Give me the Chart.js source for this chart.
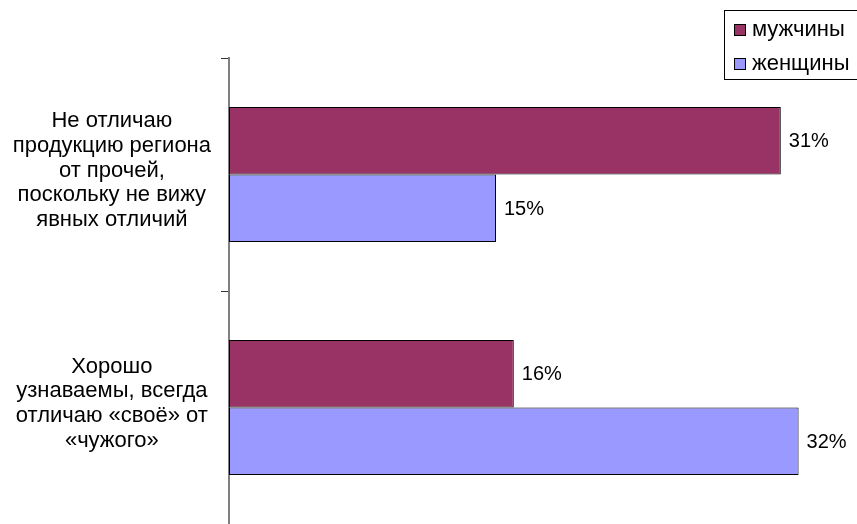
<!DOCTYPE html>
<html>
<head>
<meta charset="utf-8">
<script src="https://cdn.jsdelivr.net/npm/chart.js@4.4.1/dist/chart.umd.min.js"></script>
<style>
  html, body { margin: 0; padding: 0; background: #ffffff; }
  #wrap { width: 857px; height: 524px; position: relative; }
</style>
</head>
<body>
<div id="wrap"><canvas id="chart" width="857" height="524"></canvas></div>
<script>
// Answer categories (multi-line labels)
const categories = [
  ['Не отличаю', 'продукцию региона', 'от прочей,', 'поскольку не вижу', 'явных отличий'],
  ['Хорошо', 'узнаваемы, всегда', 'отличаю «своё» от', '«чужого»']
];
const seriesNames = ['мужчины', 'женщины'];
const menValues = [31, 16];
const womenValues = [15, 32];
const seriesColors = ['#993366', '#9999ff'];

const FONT = 'Arial, "Liberation Sans", sans-serif';

// Percent labels to the right of every bar
const valueLabels = {
  id: 'valueLabels',
  afterDatasetsDraw(chart) {
    const ctx = chart.ctx;
    ctx.save();
    ctx.font = '20px ' + FONT;
    ctx.fillStyle = '#000';
    ctx.textAlign = 'left';
    ctx.textBaseline = 'middle';
    chart.data.datasets.forEach((ds, di) => {
      chart.getDatasetMeta(di).data.forEach((bar, i) => {
        ctx.fillText(ds.data[i] + '%', bar.x + 8, bar.y + 1);
      });
    });
    ctx.restore();
  }
};

// Boxed legend in the upper right corner
const boxLegend = {
  id: 'boxLegend',
  afterDraw(chart) {
    const ctx = chart.ctx;
    ctx.save();
    ctx.strokeStyle = '#000';
    ctx.lineWidth = 1;
    ctx.strokeRect(724.5, 10.5, 160, 69);
    ctx.font = '22px ' + FONT;
    ctx.textAlign = 'left';
    ctx.textBaseline = 'middle';
    chart.data.datasets.forEach((ds, i) => {
      const cy = 30 + i * 34;
      ctx.fillStyle = ds.backgroundColor;
      ctx.fillRect(734.5, cy - 5.5, 11, 11);
      ctx.strokeRect(734.5, cy - 5.5, 11, 11);
      ctx.fillStyle = '#000';
      ctx.fillText(ds.label, 752, cy);
    });
    ctx.restore();
  }
};

new Chart(document.getElementById('chart'), {
  type: 'bar',
  data: {
    labels: categories,
    datasets: [
      { label: seriesNames[0], data: menValues, backgroundColor: seriesColors[0],
        borderColor: '#000', borderWidth: 1, borderSkipped: false },
      { label: seriesNames[1], data: womenValues, backgroundColor: seriesColors[1],
        borderColor: '#000', borderWidth: 1, borderSkipped: false }
    ]
  },
  options: {
    indexAxis: 'y',
    responsive: false,
    animation: false,
    layout: { padding: { top: 58, right: 5, bottom: -2, left: 0 } },
    categoryPercentage: 0.58,
    barPercentage: 1,
    plugins: {
      legend: { display: false },
      tooltip: { enabled: false }
    },
    scales: {
      x: {
        display: false,
        min: 0,
        max: 35
      },
      y: {
        afterFit(scale) {
          scale.width = 229;
          scale.paddingTop = 0;
          scale.paddingBottom = 0;
        },
        border: { display: true, color: '#808080', width: 2 },
        grid: {
          offset: true,
          drawOnChartArea: false,
          drawTicks: true,
          tickLength: 8,
          color: '#333'
        },
        ticks: {
          crossAlign: 'center',
          padding: 10,
          labelOffset: -4,
          color: '#000',
          font: { family: FONT, size: 22, lineHeight: 1.12 }
        }
      }
    }
  },
  plugins: [valueLabels, boxLegend]
});
</script>
</body>
</html>
